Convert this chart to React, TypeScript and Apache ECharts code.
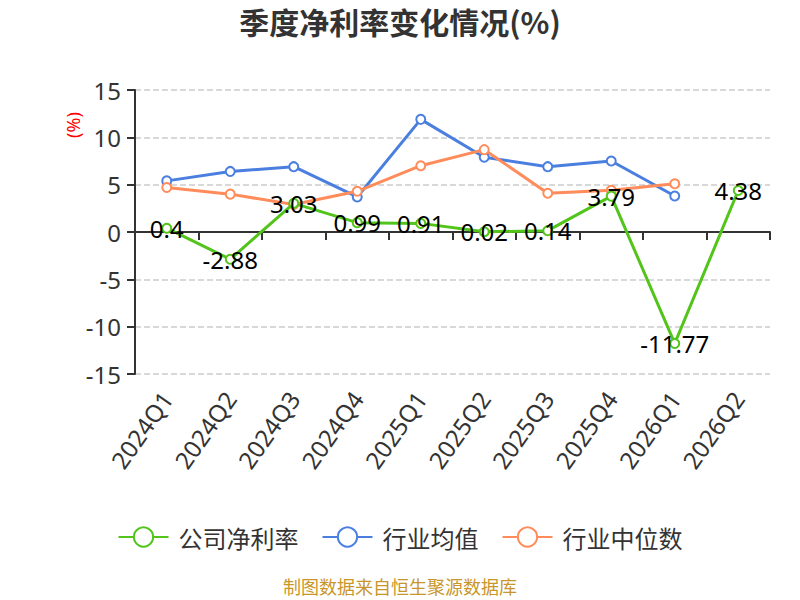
import React, { useEffect, useRef } from "react";
import * as echarts from "echarts";

const categories = ["2024Q1", "2024Q2", "2024Q3", "2024Q4", "2025Q1", "2025Q2", "2025Q3", "2025Q4", "2026Q1", "2026Q2"];
const companyValues = [0.4, -2.88, 3.03, 0.99, 0.91, 0.02, 0.14, 3.79, -11.77, 4.38];
const industryAvg = [5.4, 6.4, 6.9, 3.7, 11.9, 7.9, 6.9, 7.5, 3.8, null];
const industryMedian = [4.7, 4.0, 2.9, 4.3, 7.0, 8.7, 4.1, 4.4, 5.1, null];
const yTicks = { min: -15, max: 15, interval: 5 };

const FONT = "'Noto Sans', 'Noto Sans CJK SC', sans-serif";
const CJK = "'Noto Sans CJK SC', 'Noto Sans', sans-serif";

export default function App() {
  const ref = useRef<HTMLDivElement>(null);
  useEffect(() => {
    if (!ref.current) return;
    const chart = echarts.init(ref.current, undefined, { renderer: "svg" });
    chart.setOption({
      animation: false,
      textStyle: { fontFamily: FONT },
      title: {
        text: "季度净利率变化情况(%)",
        left: "center",
        top: 6,
        padding: 0,
        textStyle: { fontSize: 30, fontWeight: "bold", color: "#333", fontFamily: CJK },
      },
      graphic: [
        {
          type: "text",
          x: 400,
          y: 577,
          style: { text: "制图数据来自恒生聚源数据库", fill: "#c8962b", fontSize: 18, lineHeight: 18, fontFamily: CJK, align: "center", verticalAlign: "top" },
        },
        {
          type: "text",
          x: 73,
          y: 125,
          rotation: Math.PI / 2,
          style: { text: "(%)", fill: "#ff0000", fontSize: 18, fontFamily: FONT, align: "center", verticalAlign: "middle" },
        },
      ],
      legend: {
        top: 525,
        left: "center",
        padding: 0,
        itemWidth: 50,
        itemHeight: 24,
        itemGap: 23,
        textStyle: { fontSize: 24, color: "#333", fontFamily: CJK, padding: [0, 0, 0, 5] },
        data: ["公司净利率", "行业均值", "行业中位数"],
      },
      grid: { left: 135, right: 30, top: 90, bottom: 226 },
      xAxis: [
        {
          type: "category",
          data: categories,
          position: "bottom",
          axisLine: { show: false, onZero: false },
          axisTick: { show: false },
          axisLabel: { rotate: 55, fontSize: 24, color: "#333", margin: 20, interval: 0, fontFamily: FONT },
        },
        {
          type: "category",
          data: categories,
          position: "bottom",
          axisLine: { show: true, onZero: true, lineStyle: { color: "#333", width: 2 } },
          axisTick: { show: true, length: 8, lineStyle: { color: "#333", width: 2 } },
          axisLabel: { show: false },
        },
      ],
      yAxis: {
        type: "value",
        min: yTicks.min,
        max: yTicks.max,
        interval: yTicks.interval,
        axisLine: { show: true, lineStyle: { color: "#333", width: 2 } },
        axisTick: { show: true, length: 8, lineStyle: { color: "#333", width: 2 } },
        axisLabel: { fontSize: 24, color: "#333", margin: 14, fontFamily: FONT },
        splitLine: { show: true, lineStyle: { type: "dashed", color: "#ccc", width: 1.5 } },
      },
      series: [
        {
          name: "公司净利率",
          type: "line",
          data: companyValues,
          xAxisIndex: 0,
          symbol: "emptyCircle",
          symbolSize: 9,
          z: 3,
          itemStyle: { color: "#52c41a" },
          lineStyle: { width: 3, color: "#52c41a" },
          label: { show: true, position: "inside", fontSize: 24, color: "#000", fontFamily: FONT },
        },
        {
          name: "行业均值",
          type: "line",
          data: industryAvg,
          xAxisIndex: 0,
          symbol: "emptyCircle",
          symbolSize: 9,
          z: 2,
          itemStyle: { color: "#4a7fe0" },
          lineStyle: { width: 3, color: "#4a7fe0" },
        },
        {
          name: "行业中位数",
          type: "line",
          data: industryMedian,
          xAxisIndex: 0,
          symbol: "emptyCircle",
          symbolSize: 9,
          z: 2,
          itemStyle: { color: "#ff8c5a" },
          lineStyle: { width: 3, color: "#ff8c5a" },
        },
      ],
    });
    return () => chart.dispose();
  }, []);
  return <div ref={ref} style={{ position: "absolute", left: 0, top: 0, width: 800, height: 600 }} />;
}
